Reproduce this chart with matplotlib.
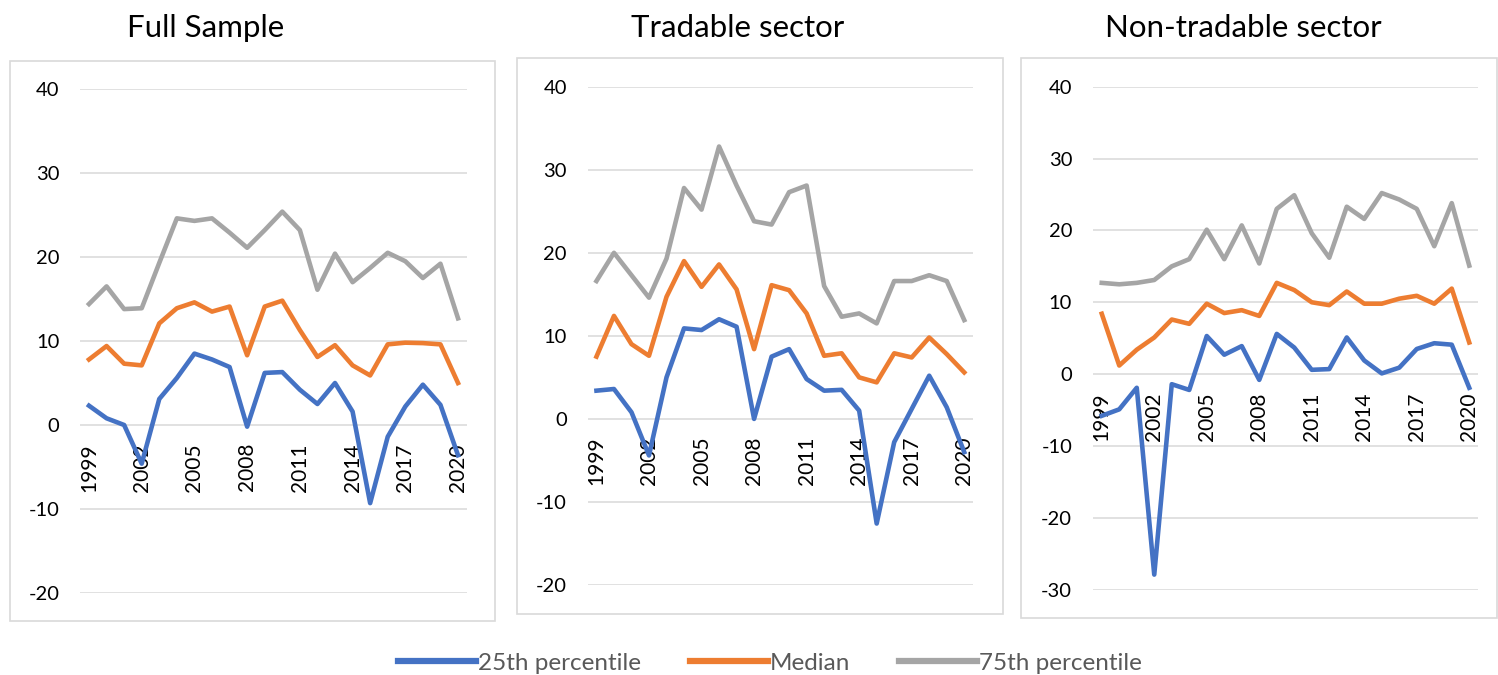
import matplotlib
matplotlib.use("Agg")
import matplotlib.pyplot as plt
from matplotlib.lines import Line2D
from matplotlib.patches import Rectangle

plt.rcParams['font.family'] = ['Lato', 'DejaVu Sans']
plt.rcParams['axes.unicode_minus'] = False

years = list(range(1999, 2021))
year_labels = [str(y) for y in years]

full_p25 = [2.3, 0.8, 0.0, -4.6, 3.1, 5.6, 8.5, 7.8, 6.9, -0.2, 6.2, 6.3, 4.2, 2.5, 5.0, 1.6, -9.3, -1.4, 2.2, 4.8, 2.4, -3.6]
full_med = [7.8, 9.4, 7.3, 7.1, 12.1, 13.9, 14.6, 13.5, 14.1, 8.3, 14.1, 14.8, 11.3, 8.1, 9.5, 7.1, 5.9, 9.6, 9.8, 9.75, 9.6, 5.0]
full_p75 = [14.4, 16.5, 13.8, 13.9, 19.3, 24.6, 24.3, 24.6, 22.9, 21.1, 23.2, 25.4, 23.2, 16.1, 20.4, 17.0, 18.7, 20.5, 19.5, 17.5, 19.2, 12.7]

trad_p25 = [3.4, 3.6, 0.8, -4.4, 5.0, 10.9, 10.7, 12.0, 11.1, 0.0, 7.5, 8.4, 4.8, 3.4, 3.5, 1.0, -12.6, -2.8, 1.2, 5.2, 1.4, -4.0]
trad_med = [7.5, 12.4, 9.0, 7.6, 14.7, 19.0, 15.9, 18.6, 15.6, 8.4, 16.1, 15.5, 12.7, 7.6, 7.9, 5.0, 4.4, 7.9, 7.4, 9.8, 7.8, 5.6]
trad_p75 = [16.6, 20.0, 17.3, 14.6, 19.3, 27.8, 25.2, 32.8, 28.1, 23.8, 23.4, 27.3, 28.1, 16.0, 12.3, 12.7, 11.5, 16.6, 16.6, 17.3, 16.6, 11.9]

nontrad_p25 = [-5.8, -4.9, -1.9, -27.9, -1.4, -2.2, 5.3, 2.7, 3.9, -0.8, 5.6, 3.7, 0.6, 0.7, 5.1, 1.9, 0.1, 0.9, 3.5, 4.3, 4.1, -1.9]
nontrad_med = [8.4, 1.2, 3.4, 5.1, 7.6, 7.0, 9.8, 8.5, 8.9, 8.1, 12.7, 11.7, 10.0, 9.6, 11.5, 9.8, 9.8, 10.5, 10.9, 9.8, 11.9, 4.4]
nontrad_p75 = [12.7, 12.5, 12.7, 13.1, 15.0, 16.0, 20.1, 16.0, 20.7, 15.4, 23.0, 24.9, 19.6, 16.2, 23.3, 21.6, 25.2, 24.3, 23.0, 17.8, 23.8, 15.1]

titles = ["Full Sample", "Tradable sector", "Non-tradable sector"]
series_names = ["25th percentile", "Median", "75th percentile"]
colors = ["#4472C4", "#ED7D31", "#A5A5A5"]

panels = [
    (full_p25, full_med, full_p75),
    (trad_p25, trad_med, trad_p75),
    (nontrad_p25, nontrad_med, nontrad_p75),
]
ylims = [(-20, 40), (-20, 40), (-30, 40)]

W, H = 1498, 675
fig = plt.figure(figsize=(W / 100, H / 100), dpi=100)

# axes rects in pixels: left, top, right, bottom
ax_px = [(80.2, 89, 466.8, 593), (587.7, 86.7, 973, 585), (1093, 86.7, 1478, 589.7)]
box_px = [(10, 61, 495, 621), (517, 58, 1003, 614), (1021, 58, 1497, 618)]
title_x = [206, 738, 1243]

for i in range(3):
    bx0, by0, bx1, by1 = box_px[i]
    fig.patches.append(Rectangle((bx0 / W, 1 - by1 / H), (bx1 - bx0) / W, (by1 - by0) / H,
                                 transform=fig.transFigure, fill=False,
                                 edgecolor="#D9D9D9", linewidth=1.2, zorder=0))
    l, t, r, b = ax_px[i]
    ax = fig.add_axes([l / W, 1 - b / H, (r - l) / W, (b - t) / H])
    x = list(range(len(years)))
    for vals, c in zip(panels[i], colors):
        ax.plot(x, vals, color=c, linewidth=3.3, solid_joinstyle='round', zorder=3)
    lo, hi = ylims[i]
    ax.set_ylim(lo, hi)
    ax.set_xlim(-0.5, len(years) - 0.5)
    ax.set_yticks(list(range(lo, hi + 1, 10)))
    ax.grid(axis='y', color="#D9D9D9", linewidth=1.1, zorder=0)
    ax.set_axisbelow(True)
    ax.set_xticks([])
    for s in ax.spines.values():
        s.set_visible(False)
    ax.tick_params(axis='y', length=0, pad=15, labelsize=14.5, labelcolor='black')
    for j in range(0, len(years), 3):
        ax.annotate(year_labels[j], xy=(j, 0), xytext=(0, -13), textcoords='offset points',
                    rotation=90, ha='center', va='top', fontsize=15, color='black', zorder=2)
    fig.text(title_x[i] / W, 1 - 28 / H, titles[i], ha='center', va='center', fontsize=22.5, color='black')

handles = [Line2D([0], [0], color=c, linewidth=4.5) for c in colors]
fig.legend(handles, series_names, loc='center', bbox_to_anchor=(770 / W, 1 - 663 / H), ncol=3,
           frameon=False, fontsize=17.5, labelcolor='#595959', handlelength=3.2,
           handletextpad=0.1, columnspacing=2.0)

fig.savefig("out.png", dpi=100, facecolor='white')
